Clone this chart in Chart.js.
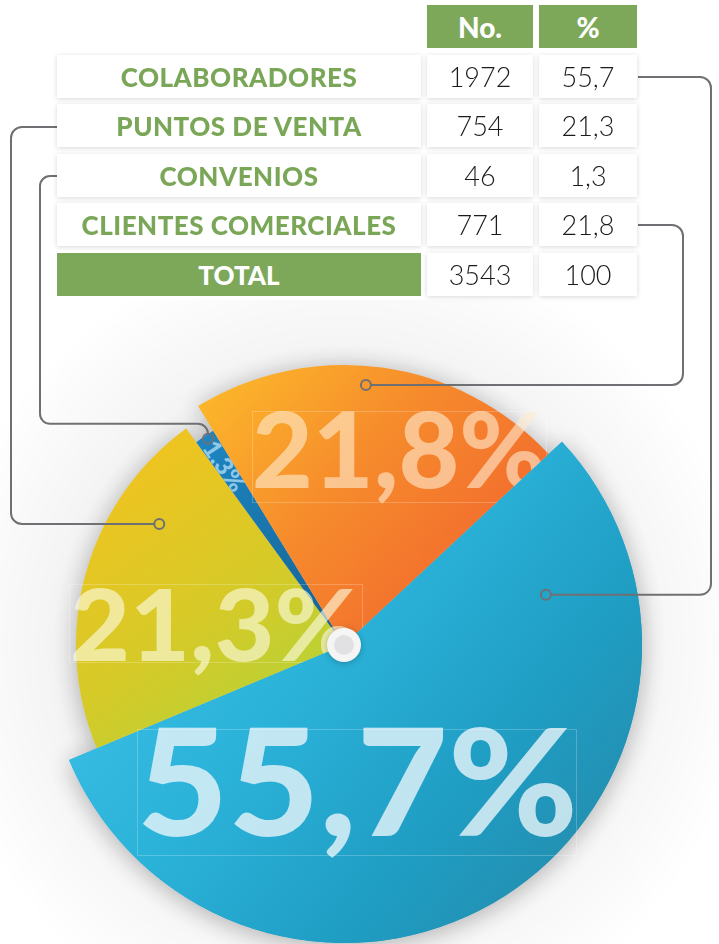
<!DOCTYPE html>
<html>
<head>
<meta charset="utf-8">
<script src="https://cdn.jsdelivr.net/npm/chart.js@4.4.1/dist/chart.umd.min.js"></script>
<style>
  html, body { margin:0; padding:0; background:#ffffff; }
  #wrap { position:relative; width:719px; height:944px; overflow:hidden; }
  #c { position:absolute; left:0; top:0; }
  .cell { position:absolute; display:flex; align-items:center; justify-content:center;
          background:#ffffff; box-shadow:0 1px 5px rgba(0,0,0,0.16); box-sizing:border-box; white-space:nowrap; }
  .lab { color:#7aa757; font-family:'Lato', sans-serif; font-weight:900; font-size:26px; letter-spacing:0.5px; }
  .num { color:#1b1b1b; font-family:'Lato', sans-serif; font-weight:300; font-size:27px; }
  .hdr { background:#7da85a; color:#ffffff; font-family:'Lato', sans-serif; font-weight:900; font-size:28px; box-shadow:none; }
  .tot { background:#7da85a; color:#ffffff; box-shadow:none; letter-spacing:0; }
</style>
</head>
<body>
<div id="wrap">
  <canvas id="c" width="719" height="944"></canvas>
  <div id="table"></div>
</div>
<script>
// ---------- DATA ----------
const categories = ['COLABORADORES', 'PUNTOS DE VENTA', 'CONVENIOS', 'CLIENTES COMERCIALES'];
const counts = [1972, 754, 46, 771];
const percents = [55.7, 21.3, 1.3, 21.8];
const columnHeaders = ['No.', '%'];
const totalLabel = 'TOTAL';
const totalCount = 3543;
const totalPercent = 100;

// ---------- STYLE ----------
const sliceRadius = [298, 268, 251, 280];
const fmt = v => String(v).replace('.', ',');

// table layout (style only)
const rowTops = [55, 104, 154, 203, 253];
const rowH = 43;
const colX = [[57, 421], [427, 533], [539, 637]];
const table = document.getElementById('table');
function cell(x0, x1, y, h, txt, cls) {
  const d = document.createElement('div');
  d.className = 'cell ' + cls;
  d.style.left = x0 + 'px'; d.style.top = y + 'px';
  d.style.width = (x1 - x0) + 'px'; d.style.height = h + 'px';
  d.textContent = txt;
  table.appendChild(d);
}
cell(colX[1][0], colX[1][1], 5, 43, columnHeaders[0], 'hdr');
cell(colX[2][0], colX[2][1], 5, 43, columnHeaders[1], 'hdr');
categories.forEach((c, i) => {
  cell(colX[0][0], colX[0][1], rowTops[i], rowH, c, 'lab');
  cell(colX[1][0], colX[1][1], rowTops[i], rowH, String(counts[i]), 'num');
  cell(colX[2][0], colX[2][1], rowTops[i], rowH, fmt(percents[i]), 'num');
});
cell(colX[0][0], colX[0][1], rowTops[4], rowH, totalLabel, 'lab tot');
cell(colX[1][0], colX[1][1], rowTops[4], rowH, String(totalCount), 'num');
cell(colX[2][0], colX[2][1], rowTops[4], rowH, String(totalPercent), 'num');

// gradients per slice: [x0,y0,x1,y1] relative to pie centre, stops
const gradDefs = [
  [[-300, -200, 300, 300], [[0, '#46c9ef'], [0.45, '#2bb2d9'], [0.7, '#1f9dc3'], [1, '#2784a2']]],
  [[-200, -220, 0, 60], [[0, '#f2c31f'], [0.55, '#d6ca28'], [1, '#b2d338']]],
  [[-140, -210, -20, 0], [[0, '#1d86c2'], [1, '#156292']]],
  [[-150, -270, 120, -30], [[0, '#fdbc2a'], [0.5, '#f68b2c'], [1, '#f2692e']]]
];
function sliceColor(context) {
  const chart = context.chart;
  const area = chart.chartArea;
  if (!area) return '#999';
  const cx = (area.left + area.right) / 2, cy = (area.top + area.bottom) / 2;
  const [p, stops] = gradDefs[context.dataIndex];
  const g = chart.ctx.createLinearGradient(cx + p[0], cy + p[1], cx + p[2], cy + p[3]);
  stops.forEach(s => g.addColorStop(s[0], s[1]));
  return g;
}

// big value labels: [index, dx(left), dy(baseline), fontSize, targetWidth, colour, box]
const bigLabels = [
  [3, -92, -157, 104, 294, 'rgba(255,236,210,0.60)', [-92, -234, 294, 91]],
  [1, -274, 16, 100, 290, 'rgba(252,250,222,0.64)', [-275, -61, 293, 78]],
];
const mainLabel = [0, -207, 191, 148, 441, 'rgba(232,245,250,0.80)', [-207, 84, 439, 126]];

// connector anchors: [index, angleFrac, radiusFrac]
const anchors = [[0, 0.145, 0.698], [1, 0.73, 0.824], [2, 0.57, 0.984], [3, 0.462, 0.932]];

function arcPoint(a, af, rf) {
  const ang = a.startAngle + af * (a.endAngle - a.startAngle);
  const r = a.outerRadius * rf;
  return [a.x + r * Math.cos(ang), a.y + r * Math.sin(ang)];
}
function pathRounded(ctx, pts, rad) {
  ctx.beginPath();
  ctx.moveTo(pts[0][0], pts[0][1]);
  for (let i = 1; i < pts.length - 1; i++) ctx.arcTo(pts[i][0], pts[i][1], pts[i + 1][0], pts[i + 1][1], rad);
  ctx.lineTo(pts[pts.length - 1][0], pts[pts.length - 1][1]);
  ctx.stroke();
}
function drawFitText(ctx, txt, x, y, size, w, color) {
  ctx.save();
  ctx.font = '900 ' + size + 'px Lato, sans-serif';
  const m = ctx.measureText(txt).width;
  ctx.translate(x, y);
  ctx.scale(w / m, 1);
  ctx.fillStyle = color;
  ctx.textAlign = 'left';
  ctx.textBaseline = 'alphabetic';
  ctx.fillText(txt, 0, 0);
  ctx.restore();
}

const shapePlugin = {
  id: 'shape',
  beforeDatasetsDraw(chart) {
    const meta = chart.getDatasetMeta(0);
    meta.data.forEach((a, i) => { a.outerRadius = sliceRadius[i]; });
    const ctx = chart.ctx;
    const a0 = meta.data[0];
    ctx.save();
    const rg = ctx.createRadialGradient(a0.x, a0.y, 250, a0.x, a0.y, 410);
    rg.addColorStop(0, 'rgba(0,0,0,0.06)');
    rg.addColorStop(1, 'rgba(0,0,0,0)');
    ctx.fillStyle = rg;
    ctx.fillRect(0, 300, 719, 644);
    ctx.restore();
    ctx.save();
    ctx.shadowColor = 'rgba(0,0,0,0.30)';
    ctx.shadowBlur = 26;
    ctx.shadowOffsetY = 3;
    ctx.fillStyle = '#ddd';
    meta.data.forEach(a => {
      ctx.beginPath(); ctx.moveTo(a.x, a.y);
      ctx.arc(a.x, a.y, a.outerRadius, a.startAngle, a.endAngle);
      ctx.closePath(); ctx.fill();
    });
    ctx.restore();
  },
  afterDatasetsDraw(chart) {
    const ctx = chart.ctx;
    const meta = chart.getDatasetMeta(0);
    const arcs = meta.data;
    const cx = arcs[0].x, cy = arcs[0].y;
    bigLabels.forEach(L => {
      const txt = fmt(percents[L[0]]) + '%';
      drawFitText(ctx, txt, cx + L[1], cy + L[2], L[3], L[4], L[5]);
      ctx.save(); ctx.strokeStyle = 'rgba(255,255,255,0.22)'; ctx.lineWidth = 1;
      ctx.strokeRect(cx + L[6][0] + 0.5, cy + L[6][1] + 0.5, L[6][2], L[6][3]); ctx.restore();
    });
    // small rotated label on the thin slice, clipped to it
    const ca = arcs[2];
    const mid = (ca.startAngle + ca.endAngle) / 2;
    ctx.save();
    ctx.beginPath(); ctx.moveTo(ca.x, ca.y);
    ctx.arc(ca.x, ca.y, ca.outerRadius, ca.startAngle, ca.endAngle); ctx.closePath();
    ctx.clip();
    const pr = ca.outerRadius - 8;
    ctx.translate(ca.x + pr * Math.cos(mid), ca.y + pr * Math.sin(mid));
    ctx.rotate(mid + Math.PI);
    ctx.font = '900 25px Lato, sans-serif';
    ctx.fillStyle = 'rgba(165,212,240,0.85)';
    ctx.textAlign = 'left'; ctx.textBaseline = 'middle';
    ctx.fillText(fmt(percents[2]) + '%', 0, 1);
    ctx.restore();
    // redraw main slice on top
    arcs[0].draw(ctx);
    drawFitText(ctx, fmt(percents[0]) + '%', cx + mainLabel[1], cy + mainLabel[2], mainLabel[3], mainLabel[4], mainLabel[5]);
    ctx.save(); ctx.strokeStyle = 'rgba(255,255,255,0.22)'; ctx.lineWidth = 1;
    const b = mainLabel[6];
    ctx.strokeRect(cx + b[0] + 0.5, cy + b[1] + 0.5, b[2], b[3]); ctx.restore();
    // centre button
    ctx.save();
    ctx.shadowColor = 'rgba(0,0,0,0.25)'; ctx.shadowBlur = 6; ctx.shadowOffsetY = 1;
    ctx.fillStyle = '#f5f5f6';
    ctx.beginPath(); ctx.arc(cx, cy, 17, 0, Math.PI * 2); ctx.fill();
    ctx.restore();
    ctx.save();
    ctx.fillStyle = '#e1e1e3';
    ctx.beginPath(); ctx.arc(cx, cy, 10, 0, Math.PI * 2); ctx.fill();
    ctx.restore();
    // connectors
    const pts = anchors.map(an => arcPoint(arcs[an[0]], an[1], an[2]));
    ctx.save();
    ctx.strokeStyle = '#6f7073'; ctx.lineWidth = 2; ctx.lineCap = 'butt';
    const pB = pts[0], pY = pts[1], pC = pts[2], pO = pts[3];
    pathRounded(ctx, [[638, 77], [711, 77], [711, pB[1]], [pB[0] + 5, pB[1]]], 11);
    pathRounded(ctx, [[638, 225], [683, 225], [683, pO[1]], [pO[0] + 5, pO[1]]], 11);
    pathRounded(ctx, [[57, 127], [11, 127], [11, pY[1]], [pY[0] - 5, pY[1]]], 11);
    pathRounded(ctx, [[57, 176], [40, 176], [40, pC[1] - 15], [pC[0], pC[1] - 15], [pC[0], pC[1] - 5]], 10);
    pts.forEach(p => { ctx.beginPath(); ctx.arc(p[0], p[1], 5, 0, Math.PI * 2); ctx.stroke(); });
    ctx.restore();
  }
};

new Chart(document.getElementById('c'), {
  type: 'pie',
  data: {
    labels: categories,
    datasets: [{ data: percents, backgroundColor: sliceColor, borderWidth: 0, hoverOffset: 0 }]
  },
  options: {
    responsive: false,
    animation: false,
    events: [],
    rotation: 47,
    radius: 298,
    layout: { padding: { left: 46, right: 77, top: 347, bottom: 1 } },
    plugins: { legend: { display: false }, tooltip: { enabled: false } }
  },
  plugins: [shapePlugin]
});
</script>
</body>
</html>
